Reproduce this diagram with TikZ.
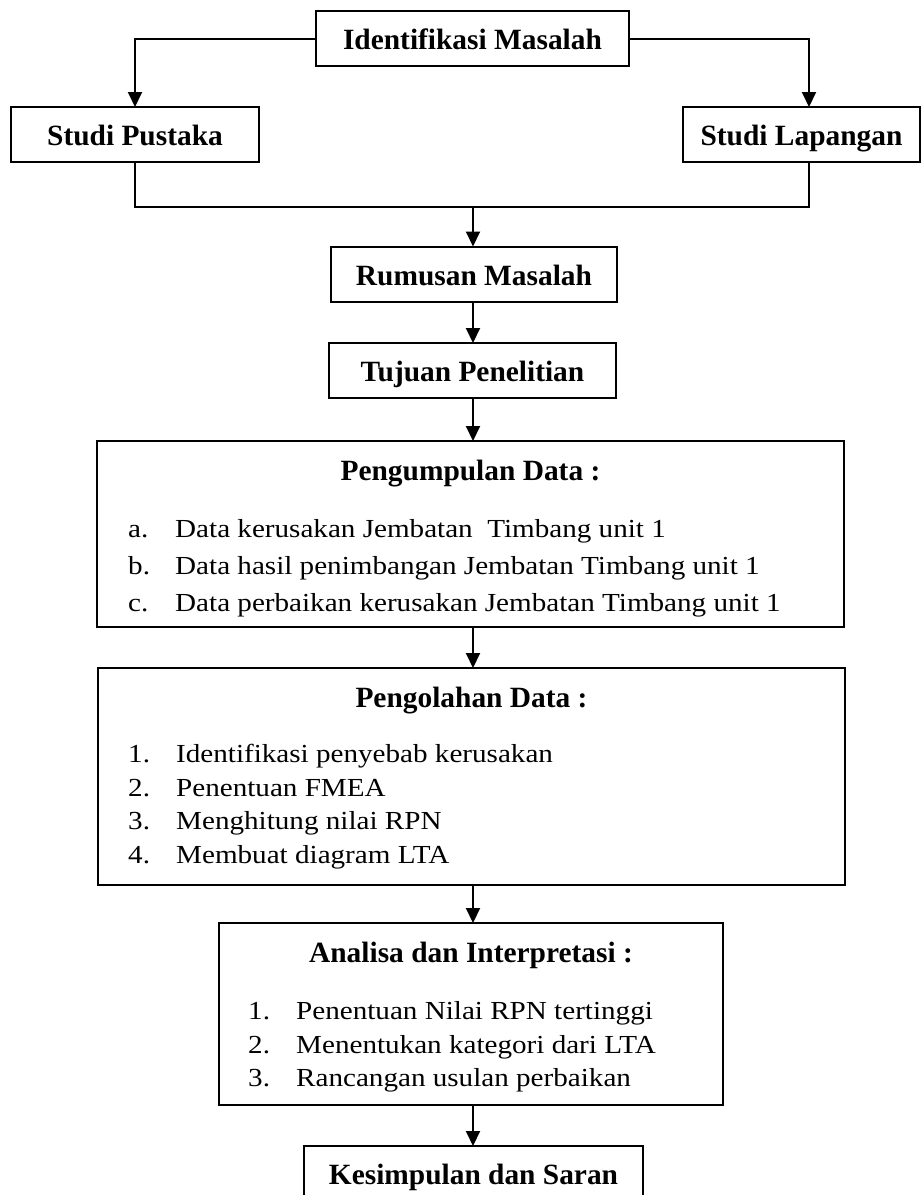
\documentclass[tikz,border=0pt]{standalone}
\usepackage{fontspec}
\setmainfont{Liberation Serif}
\newfontfamily\bodyfont[FakeStretch=1.12]{Liberation Serif}
\usetikzlibrary{arrows.meta}
\tikzset{
  box/.style={draw,line width=2pt,inner sep=0pt,outer sep=0pt},
  hd/.style={font=\fontsize{29.4}{35}\selectfont\bfseries},
  onebox/.style={box,hd,text height=38.5pt,text depth=16.5pt,minimum height=55pt},
  ttl/.style={hd,anchor=base,inner sep=0pt},
  itm/.style={font=\bodyfont\fontsize{26}{31}\selectfont,anchor=base west,inner sep=0pt},
  arr/.style={line width=2pt,-{Triangle[length=15pt,width=14pt]}},
  ln/.style={line width=2pt}
}
\begin{document}
\begin{tikzpicture}[x=1pt,y=-1pt]
\clip (0,0) rectangle (921,1195);
\fill[white] (0,0) rectangle (921,1195);
\coordinate (c) at (473,0);
% boxes
\node[onebox,minimum width=313pt] (idm) at (472.5,38.5) {Identifikasi Masalah};
\node[onebox,minimum width=248pt] (sp) at (135,134.5) {Studi Pustaka};
\node[onebox,minimum width=237pt] (sl) at (801.5,134.5) {Studi Lapangan};
\node[onebox,minimum width=286pt] (rm) at (474,274) {Rumusan Masalah};
\node[onebox,minimum width=287pt] (tp) at (472.5,370.5) {Tujuan Penelitian};
\node[box,minimum width=747pt,minimum height=186pt] (pd) at (470.5,534) {};
\node[box,minimum width=747pt,minimum height=217pt] (po) at (471.5,776.5) {};
\node[box,minimum width=504pt,minimum height=182pt] (an) at (471,1014) {};
\node[onebox,minimum width=339pt] (ks) at (473.5,1173.5) {Kesimpulan dan Saran};
% titles
\node[ttl] (pdt) at ([yshift=-39pt]pd.north) {Pengumpulan Data :};
\node[ttl] (pot) at ([yshift=-39pt]po.north) {Pengolahan Data :};
\node[ttl] (ant) at ([yshift=-39pt]an.north) {Analisa dan Interpretasi :};
% items
\foreach \l/\t/\y [count=\i] in {a./Data kerusakan Jembatan~ Timbang unit 1/537,
  b./Data hasil penimbangan Jembatan Timbang unit 1/574,
  c./Data perbaikan kerusakan Jembatan Timbang unit 1/611}{
  \node[itm] (pdl\i) at (128,\y) {\l};
  \node[itm] (pdx\i) at (175,\y) {\t};
}
\foreach \l/\t/\y [count=\i] in {1./Identifikasi penyebab kerusakan/762,
  2./Penentuan FMEA/796,
  3./Menghitung nilai RPN/829,
  4./Membuat diagram LTA/863}{
  \node[itm] (pol\i) at (128,\y) {\l};
  \node[itm] (pox\i) at (176,\y) {\t};
}
\foreach \l/\t/\y [count=\i] in {1./Penentuan Nilai RPN tertinggi/1019,
  2./Menentukan kategori dari LTA/1053,
  3./Rancangan usulan perbaikan/1086}{
  \node[itm] (anl\i) at (248,\y) {\l};
  \node[itm] (anx\i) at (296,\y) {\t};
}
% connectors
\coordinate (slin) at ([xshift=7.5pt]sl.north);
\coordinate (slout) at ([xshift=7.5pt]sl.south);
\coordinate (mj) at (473,207);
\draw[arr] (idm.west) -| (sp.north);
\draw[arr] (idm.east) -| (slin);
\draw[ln] (sp.south) |- (mj);
\draw[ln] (slout) |- (mj);
\draw[arr] (mj) -- (mj |- rm.north);
\draw[arr] (rm.south -| c) -- (tp.north -| c);
\draw[arr] (tp.south -| c) -- (pd.north -| c);
\draw[arr] (pd.south -| c) -- (po.north -| c);
\draw[arr] (po.south -| c) -- (an.north -| c);
\draw[arr] (an.south -| c) -- (ks.north -| c);
\end{tikzpicture}
\end{document}
